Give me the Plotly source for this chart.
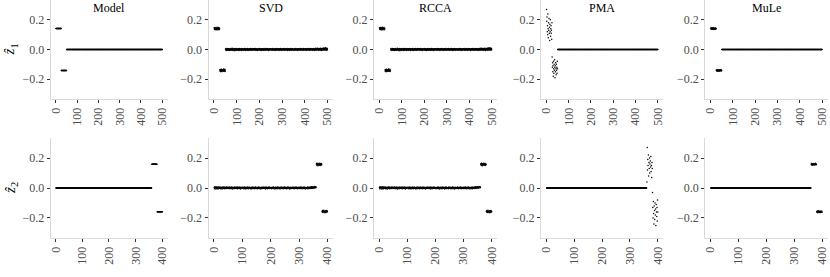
import plotly.graph_objects as go

# ---------------- data ----------------
methods = ["Model", "SVD", "RCCA", "PMA", "MuLe"]
x_ticks_z1 = [0, 100, 200, 300, 400, 500]
x_ticks_z2 = [0, 100, 200, 300, 400]
y_ticks = [-0.2, 0.0, 0.2]

# block lengths (index segments) for the two loading vectors
block_sizes_z1 = [25, 25, 450]
block_sizes_z2 = [360, 20, 20]

# Model (true) loadings
model_z1_levels = [0.141, -0.141, 0.0]
model_z2_levels = [0.0, 0.158, -0.158]

# SVD estimates (noisy)
svd_z1_b1 = [.146,.138,.143,.135,.149,.140,.137,.144,.132,.147,.139,.142,.136,.150,.141,.134,.145,.138,.143,.140,.148,.133,.141,.137,.144]
svd_z1_b2 = [-.139,-.146,-.135,-.143,-.150,-.138,-.141,-.133,-.147,-.140,-.144,-.136,-.142,-.149,-.137,-.145,-.131,-.140,-.143,-.138,-.146,-.134,-.141,-.148,-.139]
svd_z1_b3 = [
 .003,-.004,.006,-.001,.002,-.006,.004,.000,-.003,.007,-.002,.001,-.005,.003,.005,-.004,.002,-.007,.001,.004,-.002,.006,-.003,.000,.002,
 -.005,.001,.004,-.002,.008,-.003,.000,.005,-.006,.002,-.001,.003,-.004,.006,-.002,.001,-.008,.004,.002,-.003,.005,-.001,.003,-.005,.000,
 .006,-.002,.001,-.004,.003,.002,-.006,.005,-.001,.000,.004,-.003,.007,-.005,.002,-.002,.003,.001,-.004,.006,-.007,.002,.000,.004,-.003,
 .001,.005,-.003,.002,-.001,.004,-.005,.003,.006,-.002,.000,-.004,.002,.005,-.006,.001,.003,-.002,.004,-.001,.002,-.005,.006,-.003,.001,
 -.002,.004,.000,-.006,.003,.001,.005,-.003,.002,-.004,.007,-.001,.003,.000,-.005,.004,-.002,.001,.006,-.003,.002,-.004,.003,.005,-.001,
 .002,-.003,.005,.001,-.004,.003,-.002,.006,.000,-.005,.002,.004,-.001,-.003,.005,.002,-.006,.003,-.001,.004,.000,.002,-.004,.001,.006,
 -.004,.002,.003,-.001,.005,-.005,.001,.004,-.002,.003,-.006,.000,.002,.005,-.003,.001,.004,-.002,-.005,.003,.006,-.001,.002,-.003,.004,
 .000,.003,-.005,.004,.002,-.002,.006,-.004,.001,.003,-.001,.005,-.003,.002,.000,-.006,.004,.001,-.002,.005,-.004,.003,.001,-.001,.002,
 .005,-.001,.002,-.003,.004,.001,-.005,.003,.000,.006,-.002,.002,-.004,.001,.005,-.003,.002,.004,-.001,-.006,.003,.000,.005,-.002,.001,
 -.003,.006,.001,-.002,.003,-.004,.002,.005,-.001,.000,.004,-.006,.003,.001,-.002,.005,-.003,.002,.006,-.001,.001,-.005,.004,.002,-.003,
 .004,-.002,.000,.005,-.004,.002,.003,-.001,.006,-.003,.001,.004,-.005,.002,-.001,.003,.000,-.004,.005,.002,-.002,.006,-.001,.003,-.006,
 .001,.003,-.004,.002,.005,-.002,-.005,.004,.001,-.001,.006,.000,-.003,.003,.002,-.005,.004,.001,-.002,.003,.005,-.004,.000,.002,-.001,
 -.001,.004,.002,-.005,.000,.003,.006,-.003,.002,.001,-.004,.005,.000,-.002,.004,.001,-.006,.003,.002,-.001,.004,-.003,.005,.001,-.002,
 .003,.000,-.002,.004,-.005,.006,.001,-.001,.003,-.004,.002,.000,.005,-.003,.001,.004,-.002,-.005,.003,.006,-.001,.002,-.004,.004,.000,
 -.002,.005,.003,-.001,.002,-.006,.004,.001,-.003,.005,.000,-.002,.003,.006,-.004,.002,.001,-.003,.004,-.001,.005,-.005,.002,.003,-.002,
 .006,-.004,.001,.003,-.002,.004,-.001,.005,-.005,.002,.003,-.003,.000,.004,.007,-.002,.001,-.006,.003,.002,-.001,.005,-.004,.008,.001,
 -.003,.002,.005,-.002,.009,.001,-.004,.003,.006,-.001,.004,-.005,.002,.007,-.003,.001,.005,-.002,.008,-.004,.003,.006,-.006,.004,.002,
 .005,-.001,.007,.002,-.005,.009,.003,-.002,.006,.010,-.003,.004,.001,.008,-.004,.005,.011,-.002,.006,.003,-.005,.009,.002,.007,-.001]
svd_z2_b1 = [
 .004,-.005,.008,-.002,.006,.001,-.007,.003,.005,-.003,.009,-.001,.002,-.006,.004,.007,-.004,.001,.005,-.002,.003,.006,-.005,.002,.000,
 -.003,.005,.002,-.006,.004,.001,.007,-.002,.003,-.004,.006,.000,-.005,.004,.002,-.001,.005,-.003,.001,.006,-.004,.003,.000,.005,-.002,
 .002,-.004,.006,.001,-.002,.005,-.005,.003,.000,.004,-.003,.007,-.001,.002,-.006,.003,.005,-.002,.001,.004,-.005,.002,.006,-.001,.003,
 -.001,.003,-.004,.005,.002,-.003,.006,.000,-.005,.003,.001,-.002,.004,.006,-.004,.002,-.001,.005,-.006,.003,.000,.004,-.002,.001,.005,
 .003,-.002,.001,.004,-.005,.002,.006,-.003,.000,.005,-.001,.003,-.006,.002,.004,-.002,.001,.006,-.004,.000,.003,-.005,.005,.002,-.001,
 .005,.000,-.003,.002,.004,-.006,.001,.003,-.002,.006,-.004,.002,.000,.005,-.003,.001,.004,-.001,-.005,.003,.006,-.002,.001,.004,-.003,
 -.002,.004,.001,-.005,.003,.006,-.001,.002,-.004,.005,.000,-.003,.004,.001,-.006,.003,.002,-.001,.005,-.004,.002,.000,.006,-.002,.003,
 .001,-.003,.005,.002,-.001,.004,-.006,.003,.006,-.002,.001,.004,-.005,.000,.003,-.001,.005,.002,-.004,.006,-.003,.001,.004,-.002,.000,
 .004,.002,-.005,.003,.000,-.002,.005,.001,-.004,.006,.002,-.003,.001,.004,-.006,.003,-.001,.005,.000,-.003,.004,.002,-.005,.006,.001,
 -.004,.003,.000,.005,-.002,.001,.004,-.006,.002,.003,-.001,.006,-.003,.000,.005,-.004,.002,.001,-.002,.004,-.005,.003,.006,-.001,.002,
 .002,.005,-.003,.000,.004,-.005,.003,.001,-.002,.006,-.004,.002,.005,-.001,.000,.003,-.006,.004,.001,-.003,.005,.002,-.004,.003,-.001,
 .000,-.002,.004,.006,-.004,.002,.001,-.005,.003,.000,.005,-.002,.004,-.003,.006,.001,-.001,.003,-.005,.002,.004,-.002,.000,.005,-.003,
 .003,.001,-.004,.005,.002,-.003,.006,-.001,.000,.004,-.005,.003,.002,-.002,.005,-.004,.001,.006,-.003,.000,.004,.002,-.006,.003,.001,
 -.001,.004,.002,-.003,.006,.000,-.005,.003,.005,-.002,.001,.004,-.004,.007,.002,-.001,.003,.008,-.003,.005,.001,.006,-.002,.009,.004,
 .002,.007,-.001,.005,.010,.003,.006,.001,.008,.004]
svd_z2_b2 = [.158,.163,.151,.166,.155,.160,.149,.162,.157,.154,.165,.159,.152,.161,.156,.164,.150,.158,.162,.155]
svd_z2_b3 = [-.156,-.161,-.150,-.164,-.153,-.159,-.148,-.162,-.155,-.158,-.166,-.152,-.160,-.157,-.163,-.151,-.159,-.154,-.161,-.156]

# RCCA estimates look the same as SVD in the picture
rcca_z1_b1, rcca_z1_b2, rcca_z1_b3 = svd_z1_b1, svd_z1_b2, svd_z1_b3
rcca_z2_b1, rcca_z2_b2, rcca_z2_b3 = svd_z2_b1, svd_z2_b2, svd_z2_b3

# PMA estimates (sparse, scattered non-zero blocks)
pma_z1_b1 = [.27,.19,.22,.12,.16,.10,.24,.14,.08,.18,.13,.21,.11,.15,.06,.17,.12,.20,.09,.14,.16,.11,.13,.07,.18]
pma_z1_b2 = [-.05,-.12,-.09,-.15,-.11,-.18,-.08,-.13,-.16,-.10,-.14,-.07,-.12,-.19,-.11,-.15,-.09,-.13,-.17,-.10,-.14,-.12,-.16,-.08,-.13]
pma_z1_zero_level = 0.0
pma_z2_zero_level = 0.0
pma_z2_b2 = [.04,.27,.12,.19,.15,.22,.08,.17,.13,.20,.10,.16,.18,.14,.21,.11,.15,.07,.17,.13]
pma_z2_b3 = [-.03,-.13,-.20,-.09,-.17,-.24,-.12,-.15,-.21,-.10,-.18,-.14,-.25,-.11,-.16,-.19,-.13,-.22,-.08,-.16]

# MuLe estimates
mule_z1_b1 = [.143,.139,.145,.137,.141,.144,.138,.146,.140,.136,.142,.147,.139,.143,.135,.141,.144,.138,.142,.140,.145,.137,.143,.139,.141]
mule_z1_b2 = [-.140,-.144,-.137,-.142,-.146,-.139,-.143,-.136,-.141,-.145,-.138,-.142,-.140,-.147,-.139,-.143,-.137,-.141,-.144,-.138,-.142,-.140,-.145,-.139,-.141]
mule_z1_zero_level = 0.0
mule_z2_zero_level = 0.0
mule_z2_b2 = [.160,.155,.163,.157,.152,.161,.158,.164,.154,.159,.162,.156,.160,.153,.158,.165,.157,.161,.155,.159]
mule_z2_b3 = [-.158,-.162,-.154,-.160,-.165,-.156,-.159,-.152,-.161,-.157,-.163,-.155,-.160,-.158,-.164,-.153,-.159,-.161,-.156,-.162]


def expand(sizes, levels):
    out = []
    for s, v in zip(sizes, levels):
        out += [v] * s
    return out


series_z1 = {
    "Model": expand(block_sizes_z1, model_z1_levels),
    "SVD": svd_z1_b1 + svd_z1_b2 + svd_z1_b3,
    "RCCA": rcca_z1_b1 + rcca_z1_b2 + rcca_z1_b3,
    "PMA": pma_z1_b1 + pma_z1_b2 + [pma_z1_zero_level] * block_sizes_z1[2],
    "MuLe": mule_z1_b1 + mule_z1_b2 + [mule_z1_zero_level] * block_sizes_z1[2],
}
series_z2 = {
    "Model": expand(block_sizes_z2, model_z2_levels),
    "SVD": svd_z2_b1 + svd_z2_b2 + svd_z2_b3,
    "RCCA": rcca_z2_b1 + rcca_z2_b2 + rcca_z2_b3,
    "PMA": [pma_z2_zero_level] * block_sizes_z2[0] + pma_z2_b2 + pma_z2_b3,
    "MuLe": [mule_z2_zero_level] * block_sizes_z2[0] + mule_z2_b2 + mule_z2_b3,
}

# ---------------- layout ----------------
W, H = 830, 277
col_px = [(48.9, 166.4), (207.5, 332.7), (373.6, 497.7), (541.6, 664.6), (706.6, 829.6)]
row_px = [(0, 99), (138, 238)]
FONT = "Liberation Serif"
TICKCOL = "#4d4d4d"

fig = go.Figure()
layout = dict(
    width=W, height=H, autosize=False,
    margin=dict(l=0, r=0, t=0, b=0),
    paper_bgcolor="white", plot_bgcolor="white",
    showlegend=False,
    font=dict(family=FONT, size=12, color=TICKCOL),
)
annotations = []

for r, (series, ticks) in enumerate([(series_z1, x_ticks_z1), (series_z2, x_ticks_z2)]):
    for c, m in enumerate(methods):
        k = r * 5 + c + 1
        xa = "x" if k == 1 else f"x{k}"
        ya = "y" if k == 1 else f"y{k}"
        vals = series[m]
        n = len(vals)
        fig.add_trace(go.Scatter(
            x=list(range(1, n + 1)), y=vals, mode="markers",
            marker=dict(size=1.5, color="black", line=dict(width=0)),
            xaxis=xa, yaxis=ya, hoverinfo="skip"))
        pad = 0.05 * (n - 1)
        x0, x1 = col_px[c]
        y0, y1 = row_px[r]
        layout["xaxis" if k == 1 else f"xaxis{k}"] = dict(
            domain=[x0 / W, x1 / W], anchor=ya,
            range=[1 - pad, n + pad], tickvals=ticks,
            ticktext=[str(t) for t in ticks], tickangle=-90,
            ticklabeloverflow="allow",
            showgrid=False, zeroline=False, showline=True,
            linecolor="#d9d9d9", linewidth=1,
            ticks="outside", ticklen=3, tickwidth=1, tickcolor="#333333",
            tickfont=dict(family=FONT, size=12, color=TICKCOL), fixedrange=True)
        layout["yaxis" if k == 1 else f"yaxis{k}"] = dict(
            domain=[1 - y1 / H, 1 - y0 / H], anchor=xa,
            range=[-0.334, 0.334], tickvals=y_ticks, tickformat=".1f",
            showgrid=False, zeroline=False, showline=True,
            linecolor="#d9d9d9", linewidth=1,
            ticks="outside", ticklen=3, tickwidth=1, tickcolor="#333333",
            tickfont=dict(family=FONT, size=12, color=TICKCOL), fixedrange=True)
        if r == 0:
            annotations.append(dict(
                text=m, x=(x0 + x1) / 2 / W, y=1 - 8 / H, xref="paper", yref="paper",
                showarrow=False, xanchor="center", yanchor="middle",
                font=dict(family=FONT, size=12, color="black")))

for r, lab in enumerate(["<i>ẑ</i><sub>1</sub>", "<i>ẑ</i><sub>2</sub>"]):
    yc = (row_px[r][0] + row_px[r][1]) / 2
    annotations.append(dict(
        text=lab, x=9 / W, y=1 - yc / H, xref="paper", yref="paper",
        showarrow=False, textangle=-90, xanchor="center", yanchor="middle",
        font=dict(family=FONT, size=15, color="black")))

layout["annotations"] = annotations
fig.update_layout(**layout)
fig.write_html(
    "out.html",
    config={"displayModeBar": False},
    post_script="document.body.style.margin='0';document.body.style.padding='0';"
                "document.body.style.overflow='hidden';",
)
